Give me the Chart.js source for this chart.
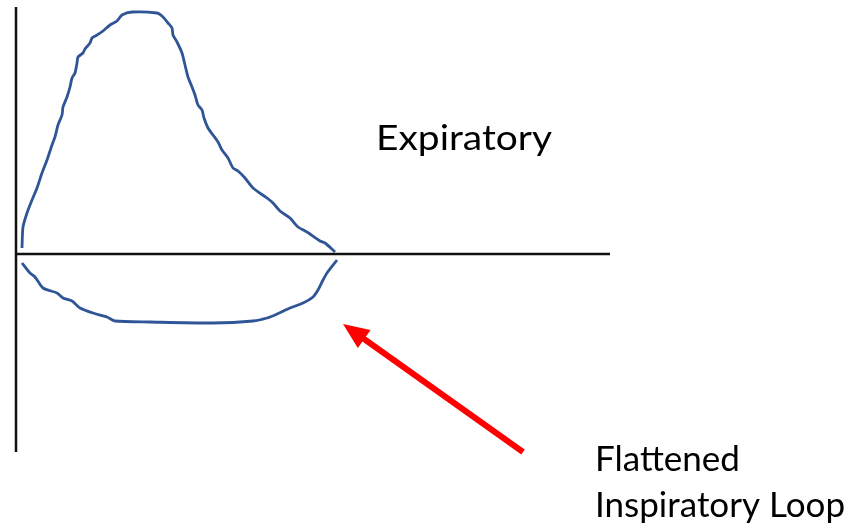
<!DOCTYPE html>
<html>
<head>
<meta charset="utf-8">
<script src="https://cdn.jsdelivr.net/npm/chart.js@4/dist/chart.umd.min.js"></script>
<style>
html,body{margin:0;padding:0;background:#fff;}
#wrap{width:860px;height:531px;}
</style>
</head>
<body>
<div id="wrap"><canvas id="c" width="860" height="531"></canvas></div>
<script>
// Volume (x) and flow (y) samples (arbitrary units)
const expVolume = [6,7,11,16,21,26,31,36,39,42,46,47,51,54,56,59,61,62,67,69,74,76,81,87,94,101,106,116,141,146,152,156,157,161,166,169,172,176,179,182,186,188,192,197,202,206,212,217,222,229,237,251,257,264,274,282,291,304,309,317,319];
const expFlow   = [6,27,41,54,66,81,94,109,117,129,139,147,157,167,176,181,191,197,201,205,211,216,219,223,229,233,239,242,241,238,231,226,219,212,201,189,177,167,159,149,144,136,126,119,112,104,96,86,83,76,66,56,51,43,36,27,22,13,11,4,2];
const inspVolume = [6,14,19,27,41,47,56,64,77,91,99,134,197,237,251,261,274,287,297,302,306,311,321];
const inspFlow   = [-9,-19,-23,-34,-39,-44,-47,-54,-59,-63,-67,-68,-69,-67,-64,-60,-54,-49,-43,-36,-28,-19,-6];
const labels = ["Expiratory", "Flattened", "Inspiratory Loop"];

const toPts = (xs, ys) => xs.map((x, i) => ({x: x, y: ys[i]}));

const annot = {
  id: 'annot',
  beforeDatasetsDraw(chart) {
    const {ctx, chartArea: a, scales} = chart;
    const y0 = scales.y.getPixelForValue(0);
    ctx.save();
    ctx.strokeStyle = '#111';
    ctx.lineWidth = 2.5;
    ctx.beginPath();
    ctx.moveTo(a.left, a.top + 2);
    ctx.lineTo(a.left, a.bottom);
    ctx.moveTo(a.left - 1, y0);
    ctx.lineTo(a.right, y0);
    ctx.stroke();
    ctx.restore();
  },
  afterDatasetsDraw(chart) {
    const {ctx, scales} = chart;
    const sx = scales.x, sy = scales.y;
    ctx.save();
    // arrow
    const tx = sx.getPixelForValue(327), ty = sy.getPixelForValue(-70);
    const fx = sx.getPixelForValue(507), fy = sy.getPixelForValue(-198);
    const ang = Math.atan2(ty - fy, tx - fx);
    const headLen = 26, headW = 11;
    const bx = tx - headLen * Math.cos(ang), by = ty - headLen * Math.sin(ang);
    ctx.strokeStyle = '#FF0000';
    ctx.fillStyle = '#FF0000';
    ctx.lineWidth = 6;
    ctx.beginPath();
    ctx.moveTo(fx, fy);
    ctx.lineTo(bx + 4 * Math.cos(ang), by + 4 * Math.sin(ang));
    ctx.stroke();
    ctx.beginPath();
    ctx.moveTo(tx, ty);
    ctx.lineTo(bx + headW * Math.sin(ang), by - headW * Math.cos(ang));
    ctx.lineTo(bx - headW * Math.sin(ang), by + headW * Math.cos(ang));
    ctx.closePath();
    ctx.fill();
    // text
    ctx.fillStyle = '#000';
    ctx.textBaseline = 'alphabetic';
    ctx.textAlign = 'left';
    ctx.font = '35px Lato, "Open Sans", sans-serif';
    const put = (t, x, y, w) => {
      const m = ctx.measureText(t).width;
      ctx.save();
      ctx.translate(x, y);
      ctx.scale(w / m, 1);
      ctx.fillText(t, 0, 0);
      ctx.restore();
    };
    put(labels[0], 376, 150, 176);
    put(labels[1], 595, 471, 145);
    put(labels[2], 595, 517, 250);
    ctx.restore();
  }
};

new Chart(document.getElementById('c'), {
  type: 'line',
  data: {
    datasets: [
      { label: 'Expiratory', data: toPts(expVolume, expFlow), borderColor: '#2F5597', borderWidth: 2.8, pointRadius: 0, tension: 0.25, fill: false, clip: false },
      { label: 'Inspiratory', data: toPts(inspVolume, inspFlow), borderColor: '#2F5597', borderWidth: 2.8, pointRadius: 0, tension: 0.25, fill: false, clip: false }
    ]
  },
  options: {
    responsive: false,
    animation: false,
    devicePixelRatio: 1,
    layout: { padding: { left: 16, top: 5, right: 250, bottom: 79 } },
    plugins: { legend: { display: false }, tooltip: { enabled: false } },
    scales: {
      x: { type: 'linear', min: 0, max: 594, display: false },
      y: { type: 'linear', min: -198, max: 249, display: false }
    }
  },
  plugins: [annot]
});
</script>
</body>
</html>
